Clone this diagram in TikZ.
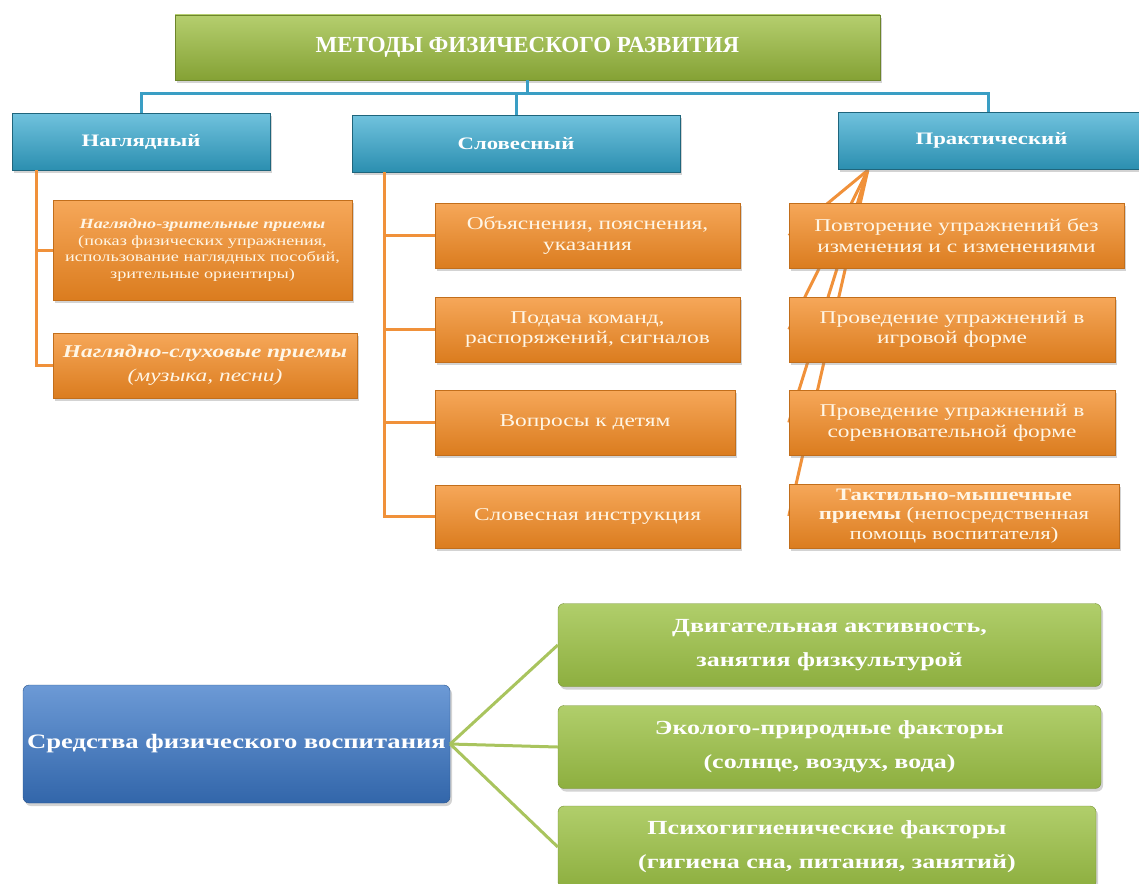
\documentclass[tikz,border=0pt]{standalone}
\usepackage{fontspec}
\setmainfont{Liberation Serif}
\newfontfamily\wideserif[FakeStretch=1.3]{Liberation Serif}
\usepackage{xcolor}
\usepackage{tikz}
\usetikzlibrary{calc,shadows,backgrounds}

\definecolor{titlegreen}{HTML}{9CBE3E}
\definecolor{headblue}{HTML}{33A8CF}
\definecolor{itemorange}{HTML}{F38A22}
\definecolor{meanblue}{HTML}{3B78C8}
\definecolor{factgreen}{HTML}{9DC246}
\definecolor{tealline}{HTML}{3A9EC4}
\definecolor{orangeline}{HTML}{F0913A}
\definecolor{greenline}{HTML}{A9C45E}
\definecolor{cream}{HTML}{FFF6E6}

\begin{document}
\begin{tikzpicture}[
    x=1pt, y=-1pt,
    every node/.style={inner sep=2pt, align=center},
    shade/.style={drop shadow={opacity=0.35, shadow xshift=2pt, shadow yshift=-3pt}},
    title/.style={rectangle, draw=titlegreen!70!black, top color=titlegreen!75!white, bottom color=titlegreen!85!black, shade, text=white, font=\fontsize{23}{26}\selectfont\bfseries},
    head/.style={rectangle, draw=headblue!60!black, top color=headblue!70!white, bottom color=headblue!85!black, shade, text=white, minimum height=57pt, font=\wideserif\fontsize{17.5}{20}\selectfont\bfseries},
    item/.style={rectangle, draw=itemorange!80!black, top color=itemorange!75!white, bottom color=itemorange!90!black, shade, text=cream, minimum height=65pt, font=\wideserif\fontsize{18}{20.5}\selectfont},
    mean/.style={rectangle, rounded corners=6pt, draw=meanblue!70!black, top color=meanblue!75!white, bottom color=meanblue!85!black, shade, text=white, font=\wideserif\fontsize{20.5}{26}\selectfont\bfseries},
    fact/.style={rectangle, rounded corners=6pt, draw=factgreen!75!black, top color=factgreen!80!white, bottom color=factgreen!90!black, shade, text=white, font=\wideserif\fontsize{20}{34}\selectfont\bfseries},
    tline/.style={draw=tealline, line width=3pt},
    oline/.style={draw=orangeline, line width=3pt},
    gline/.style={draw=greenline, line width=3pt},
]
\useasboundingbox (0,0) rectangle (1139,883);
\clip (0,0) rectangle (1139,883);

\node[title, minimum width=705pt, minimum height=65pt] (top) at (527.5,47.5) {МЕТОДЫ ФИЗИЧЕСКОГО РАЗВИТИЯ};
\node[head, minimum width=258pt] (nag) at (141,141.5) {Наглядный};
\node[head, minimum width=328pt] (slov) at (516,143.5) {Словесный};
\node[head, minimum width=307pt] (prak) at (991.5,140.5) {Практический};

\draw[tline] (top.south) -- ++(0,13) -| (nag.north);
\draw[tline] (top.south) -- ++(0,13) -| (slov.north);
\draw[tline] (top.south) -- ++(0,13) -| ([xshift=-3pt]prak.north);

\node[item, minimum width=299pt, minimum height=100pt, font=\wideserif\fontsize{14}{16.5}\selectfont] (nz) at (202.5,250) {{\bfseries\itshape Наглядно-зрительные приемы}\\(показ физических упражнения,\\использование наглядных пособий,\\зрительные ориентиры)};
\node[item, minimum width=304pt, font=\wideserif\fontsize{18}{24}\selectfont\itshape] (ns) at (205,365.5) {{\bfseries Наглядно-слуховые приемы}\\(музыка, песни)};
\draw[oline] ($(nag.south west)+(25,0)$) |- (nz.west);
\draw[oline] ($(nag.south west)+(25,0)$) |- (ns.west);

\node[item, minimum width=305pt] (s1) at (587.5,235.5) {Объяснения, пояснения,\\указания};
\node[item, minimum width=305pt] (s2) at (587.5,329.5) {Подача команд,\\распоряжений, сигналов};
\node[item, minimum width=300pt] (s3) at (585,422.5) {Вопросы к детям};
\node[item, minimum width=305pt, minimum height=63pt] (s4) at (587.5,516.5) {Словесная инструкция};
\foreach \s in {s1,s2,s3,s4}
    \draw[oline] ($(slov.south west)+(33,0)$) |- (\s.west);

\node[item, minimum width=335pt] (p1) at (956.5,235.5) {Повторение упражнений без\\изменения и с изменениями};
\node[item, minimum width=326pt] (p2) at (952,329.5) {Проведение упражнений в\\игровой форме};
\node[item, minimum width=326pt] (p3) at (952,422.5) {Проведение упражнений в\\соревновательной форме};
\node[item, minimum width=330pt, minimum height=64pt, font=\wideserif\fontsize{17.5}{19.5}\selectfont] (p4) at (954,516) {{\bfseries Тактильно-мышечные}\\{\bfseries приемы} (непосредственная\\помощь воспитателя)};
\coordinate (fan) at ($(prak.south west)+(30,1)$);
\begin{scope}[on background layer]
\foreach \p in {p1,p2,p3,p4}
    \draw[oline] (fan) -- (\p.west);
\end{scope}

\node[mean, minimum width=427pt, minimum height=118pt] (sred) at (236.5,744) {Средства физического воспитания};
\node[fact, minimum width=543pt, minimum height=83pt] (g1) at (829.5,645) {Двигательная активность,\\занятия физкультурой};
\node[fact, minimum width=543pt, minimum height=83pt] (g2) at (829.5,747) {Эколого-природные факторы\\(солнце, воздух, вода)};
\node[fact, minimum width=538pt, minimum height=82pt] (g3) at (827,847) {Психогигиенические факторы\\(гигиена сна, питания, занятий)};
\foreach \g in {g1,g2,g3}
    \draw[gline] (sred.east) -- (\g.west);
\end{tikzpicture}
\end{document}
